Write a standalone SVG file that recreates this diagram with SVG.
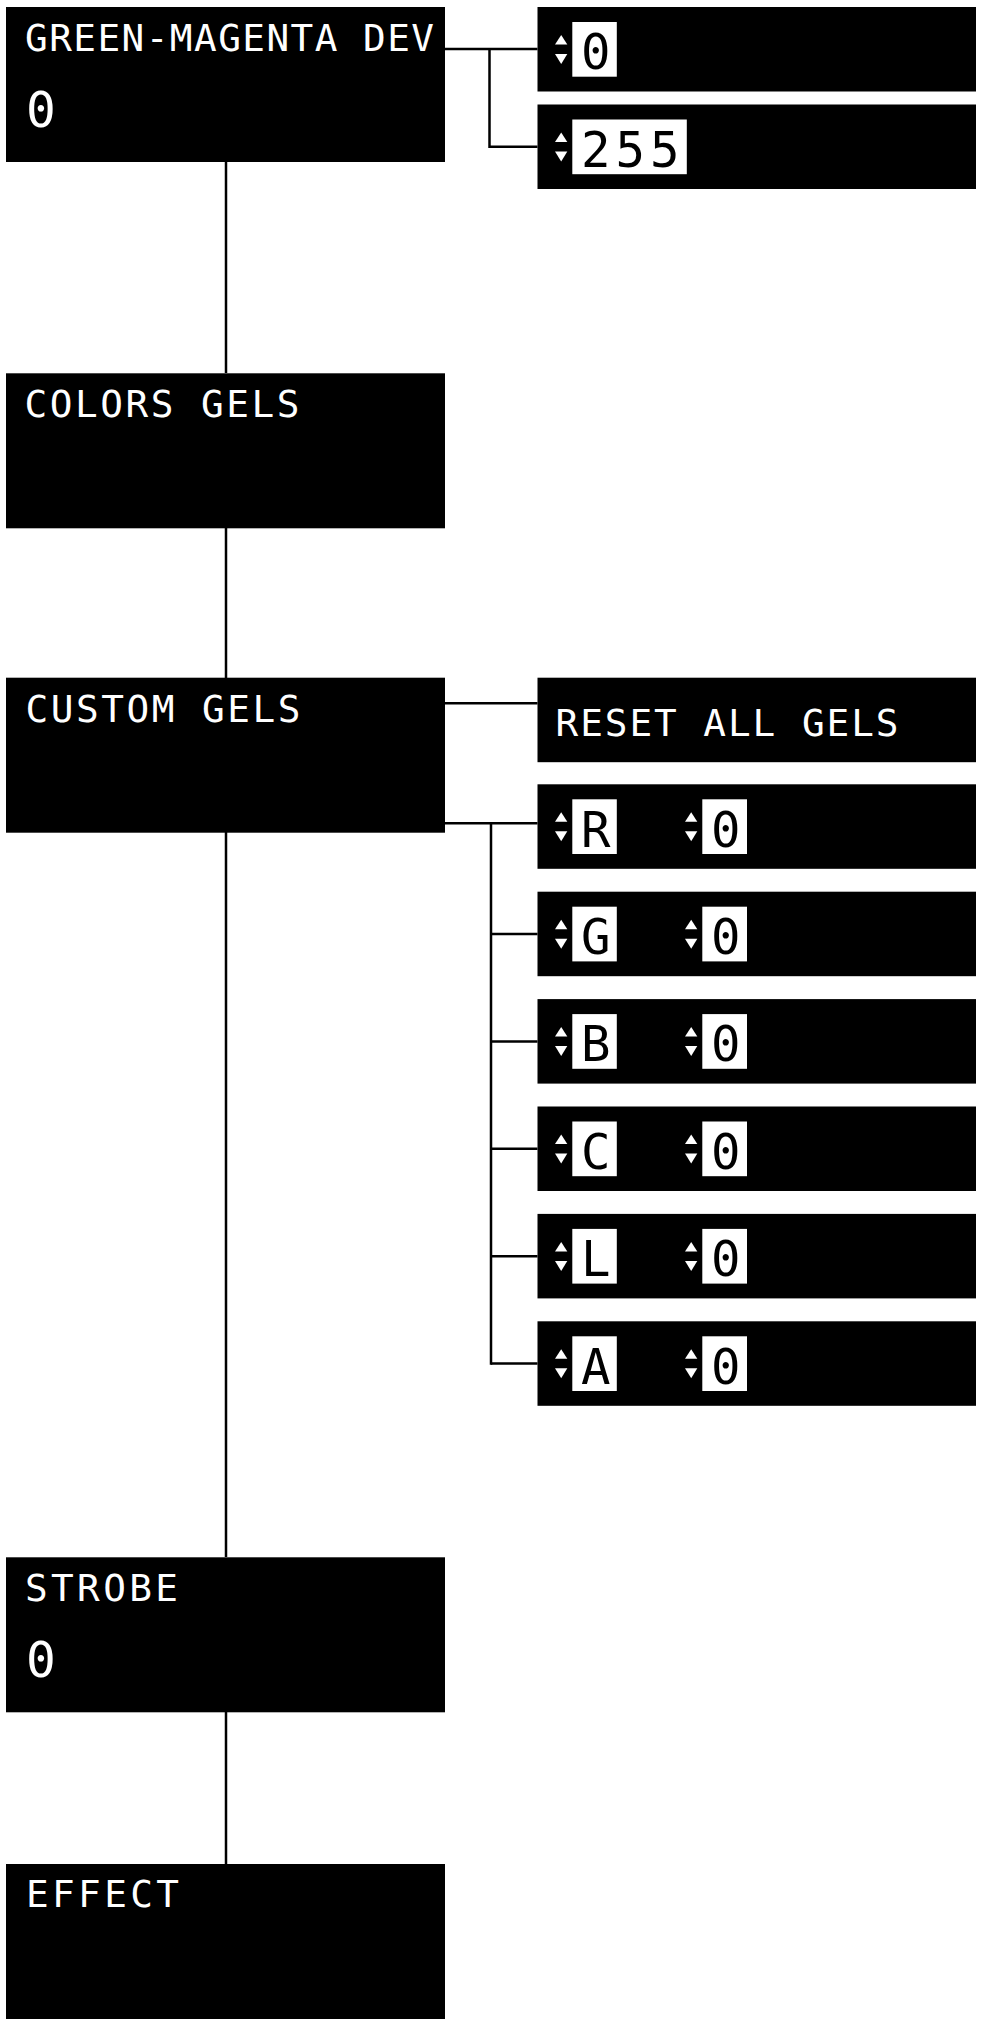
<svg xmlns="http://www.w3.org/2000/svg" width="981" height="2022" viewBox="0 0 981 2022">
<style>
.box{fill:#000}
.val{fill:#fff}
.ttl{font-family:"DejaVu Sans Mono","Liberation Mono",monospace;font-size:37.7px;fill:#fff}
.big{font-family:"DejaVu Sans Mono","Liberation Mono",monospace;font-size:49.5px;fill:#fff}
.dig{font-family:"DejaVu Sans Mono","Liberation Mono",monospace;font-size:49px;fill:#000;letter-spacing:5px}
.arr{fill:#fff}
.con{stroke:#000;stroke-width:2.5;fill:none}
</style>
<defs>
<g id="arrows">
<polygon class="arr" points="555,37.5 567.3,37.5 561.2,28"/>
<polygon class="arr" points="555,47 567.3,47 561.2,57"/>
</g>
</defs>
<rect width="981" height="2022" fill="#fff"/>
<g id="connectors">
<line class="con" x1="226" y1="162" x2="226" y2="373"/>
<line class="con" x1="226" y1="528" x2="226" y2="678"/>
<line class="con" x1="226" y1="832" x2="226" y2="1557"/>
<line class="con" x1="226" y1="1712" x2="226" y2="1864"/>
<line class="con" x1="445" y1="49" x2="537.5" y2="49"/>
<polyline class="con" points="489.5,49 489.5,146.7 537.5,146.7"/>
<line class="con" x1="445" y1="703.3" x2="537.5" y2="703.3"/>
<line class="con" x1="445" y1="823.3" x2="537.5" y2="823.3"/>
<line class="con" x1="491" y1="823.3" x2="491" y2="1364.8"/>
<line class="con" x1="491" y1="934" x2="537.5" y2="934"/>
<line class="con" x1="491" y1="1041.4" x2="537.5" y2="1041.4"/>
<line class="con" x1="491" y1="1148.8" x2="537.5" y2="1148.8"/>
<line class="con" x1="491" y1="1256.2" x2="537.5" y2="1256.2"/>
<line class="con" x1="491" y1="1363.6" x2="537.5" y2="1363.6"/>
</g>
<g id="node-green-magenta">
<rect class="box" x="6" y="7" width="439" height="155"/>
<text class="ttl" x="25" y="50.5" textLength="409" lengthAdjust="spacing">GREEN-MAGENTA DEV</text>
<text class="big" x="26" y="127">0</text>
</g>
<g id="node-gm-min" transform="translate(0,7)">
<rect class="box" x="537.5" y="0" width="438.5" height="84.5"/>
<use href="#arrows"/>
<rect class="val" x="572.3" y="15" width="44.5" height="54.7"/>
<text class="dig" x="581" y="62.4">0</text>
</g>
<g id="node-gm-max" transform="translate(0,104.5)">
<rect class="box" x="537.5" y="0" width="438.5" height="84.5"/>
<use href="#arrows"/>
<rect class="val" x="572.3" y="15" width="114.5" height="54.7"/>
<text class="dig" x="581" y="62.4">255</text>
</g>
<g id="node-colors-gels">
<rect class="box" x="6" y="373.3" width="439" height="155"/>
<text class="ttl" x="24.5" y="416.8" textLength="275" lengthAdjust="spacing">COLORS GELS</text>
</g>
<g id="node-custom-gels">
<rect class="box" x="6" y="677.7" width="439" height="155"/>
<text class="ttl" x="25.5" y="721.5" textLength="275" lengthAdjust="spacing">CUSTOM GELS</text>
</g>
<g id="node-reset">
<rect class="box" x="537.5" y="677.7" width="438.5" height="84.5"/>
<text class="ttl" x="555.5" y="736.2" textLength="343" lengthAdjust="spacing">RESET ALL GELS</text>
</g>
<g id="node-r" transform="translate(0,784.3)">
<rect class="box" x="537.5" y="0" width="438.5" height="84.5"/>
<use href="#arrows"/>
<rect class="val" x="572.3" y="15" width="44.5" height="54.7"/>
<text class="dig" x="581" y="62.4">R</text>
<use href="#arrows" x="130"/>
<rect class="val" x="702.3" y="15" width="44.7" height="54.7"/>
<text class="dig" x="711" y="62.4">0</text>
</g>
<g id="node-g" transform="translate(0,891.7)">
<rect class="box" x="537.5" y="0" width="438.5" height="84.5"/>
<use href="#arrows"/>
<rect class="val" x="572.3" y="15" width="44.5" height="54.7"/>
<text class="dig" x="581" y="62.4">G</text>
<use href="#arrows" x="130"/>
<rect class="val" x="702.3" y="15" width="44.7" height="54.7"/>
<text class="dig" x="711" y="62.4">0</text>
</g>
<g id="node-b" transform="translate(0,999.1)">
<rect class="box" x="537.5" y="0" width="438.5" height="84.5"/>
<use href="#arrows"/>
<rect class="val" x="572.3" y="15" width="44.5" height="54.7"/>
<text class="dig" x="581" y="62.4">B</text>
<use href="#arrows" x="130"/>
<rect class="val" x="702.3" y="15" width="44.7" height="54.7"/>
<text class="dig" x="711" y="62.4">0</text>
</g>
<g id="node-c" transform="translate(0,1106.5)">
<rect class="box" x="537.5" y="0" width="438.5" height="84.5"/>
<use href="#arrows"/>
<rect class="val" x="572.3" y="15" width="44.5" height="54.7"/>
<text class="dig" x="581" y="62.4">C</text>
<use href="#arrows" x="130"/>
<rect class="val" x="702.3" y="15" width="44.7" height="54.7"/>
<text class="dig" x="711" y="62.4">0</text>
</g>
<g id="node-l" transform="translate(0,1213.9)">
<rect class="box" x="537.5" y="0" width="438.5" height="84.5"/>
<use href="#arrows"/>
<rect class="val" x="572.3" y="15" width="44.5" height="54.7"/>
<text class="dig" x="581" y="62.4">L</text>
<use href="#arrows" x="130"/>
<rect class="val" x="702.3" y="15" width="44.7" height="54.7"/>
<text class="dig" x="711" y="62.4">0</text>
</g>
<g id="node-a" transform="translate(0,1321.3)">
<rect class="box" x="537.5" y="0" width="438.5" height="84.5"/>
<use href="#arrows"/>
<rect class="val" x="572.3" y="15" width="44.5" height="54.7"/>
<text class="dig" x="581" y="62.4">A</text>
<use href="#arrows" x="130"/>
<rect class="val" x="702.3" y="15" width="44.7" height="54.7"/>
<text class="dig" x="711" y="62.4">0</text>
</g>
<g id="node-strobe">
<rect class="box" x="6" y="1557.3" width="439" height="155"/>
<text class="ttl" x="25" y="1600.8" textLength="153" lengthAdjust="spacing">STROBE</text>
<text class="big" x="26" y="1676.7">0</text>
</g>
<g id="node-effect">
<rect class="box" x="6" y="1864" width="439" height="155"/>
<text class="ttl" x="26" y="1906.8" textLength="153" lengthAdjust="spacing">EFFECT</text>
</g>
</svg>
